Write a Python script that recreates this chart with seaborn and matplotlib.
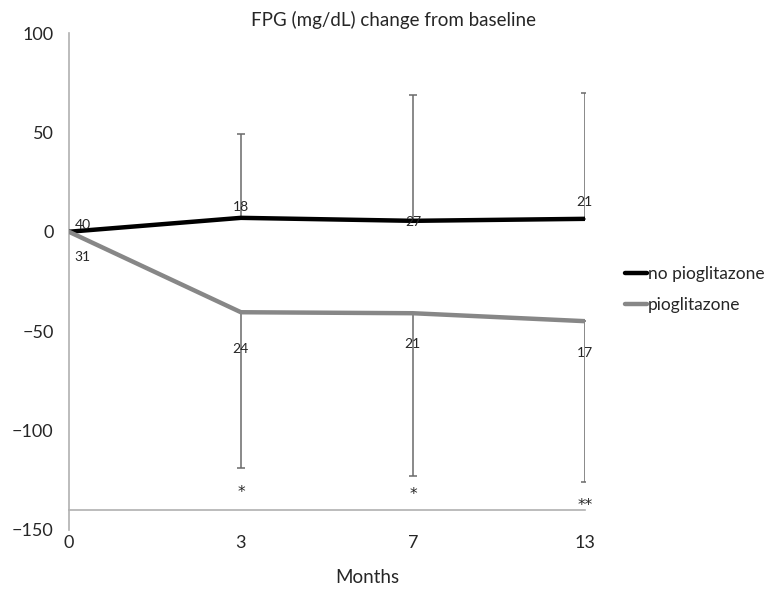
import numpy as np
import pandas as pd
import matplotlib
matplotlib.use('Agg')
import matplotlib.pyplot as plt
import seaborn as sns

# Data
months = ['0', '3', '7', '13']
no_pio = [0, 7, 5.5, 6.5]
no_pio_err = [0, 42, 63.5, 63.5]          # upper error only
pio = [0, -40.5, -41, -45]
pio_err = [0, 78.5, 82, 81]              # lower error only
no_pio_n = ['40', '18', '27', '21']
pio_n = ['31', '24', '21', '17']
stars = ['', '*', '*', '**']

df = pd.DataFrame({
    'x': list(range(len(months))) * 2,
    'value': no_pio + pio,
    'group': ['no pioglitazone'] * len(months) + ['pioglitazone'] * len(months),
})

sns.set_style('white')
plt.rcParams['font.family'] = ['Lato', 'DejaVu Sans']

fig = plt.figure(figsize=(7.83, 5.9), dpi=100)
ax = fig.add_axes([0.088, 0.102, 0.659, 0.842])

sns.lineplot(data=df, x='x', y='value', hue='group',
             palette={'no pioglitazone': 'black', 'pioglitazone': '#878787'},
             linewidth=3.2, ax=ax, legend=True, zorder=3)

xs = np.arange(len(months))
# one-sided error bars
ax.errorbar(xs[1:], no_pio[1:], yerr=[np.zeros(3), no_pio_err[1:]], fmt='none',
            ecolor='#6a6a6a', elinewidth=1.1, capsize=3, capthick=1.1, zorder=2)
ax.errorbar(xs[1:], pio[1:], yerr=[pio_err[1:], np.zeros(3)], fmt='none',
            ecolor='#6a6a6a', elinewidth=1.1, capsize=3, capthick=1.1, zorder=2)

# sample size labels
no_pio_lab_y = [3.5, 12.5, 5, 15]
pio_lab_y = [-12.5, -59, -56.5, -61]
for i in range(len(months)):
    dx = 0.08 if i == 0 else 0.0
    ax.text(xs[i] + dx, no_pio_lab_y[i], no_pio_n[i], ha='center', va='center', fontsize=10)
    ax.text(xs[i] + dx, pio_lab_y[i], pio_n[i], ha='center', va='center', fontsize=10)

star_y = [0, -131, -132, -138]
for i in range(1, len(months)):
    ax.text(xs[i], star_y[i], stars[i], ha='center', va='center', fontsize=11,
            family='DejaVu Sans')

ax.set_xlim(0, 3)
ax.set_ylim(-150, 100)
ax.set_yticks([-150, -100, -50, 0, 50, 100])
ax.set_xticks(xs)
ax.set_xticklabels(months)
ax.tick_params(axis='both', labelsize=13, direction='out', length=5,
               color='#b0b0b0', width=1.2)
ax.tick_params(axis='x', pad=13)
ax.tick_params(axis='y', pad=6)

for s in ['top', 'right']:
    ax.spines[s].set_visible(False)
ax.spines['left'].set_color('#b0b0b0')
ax.spines['left'].set_linewidth(1.2)
ax.spines['bottom'].set_color('#b0b0b0')
ax.spines['bottom'].set_linewidth(1.2)
ax.spines['bottom'].set_position(('data', -140))

ax.set_xlabel('Months', fontsize=13.5)
ax.xaxis.label.set_va('center')
ax.xaxis.set_label_coords(0.578, -0.096)
ax.set_ylabel('')
fig.suptitle('FPG (mg/dL) change from baseline', fontsize=13.5, x=0.502, y=0.967,
             va='center')

ax.legend(title=None, frameon=False, fontsize=12.5, loc='center left',
          bbox_to_anchor=(1.06, 0.483), handlelength=1.3, handletextpad=0.05,
          labelspacing=0.85, borderpad=0)

fig.savefig('out.png', dpi=100)
